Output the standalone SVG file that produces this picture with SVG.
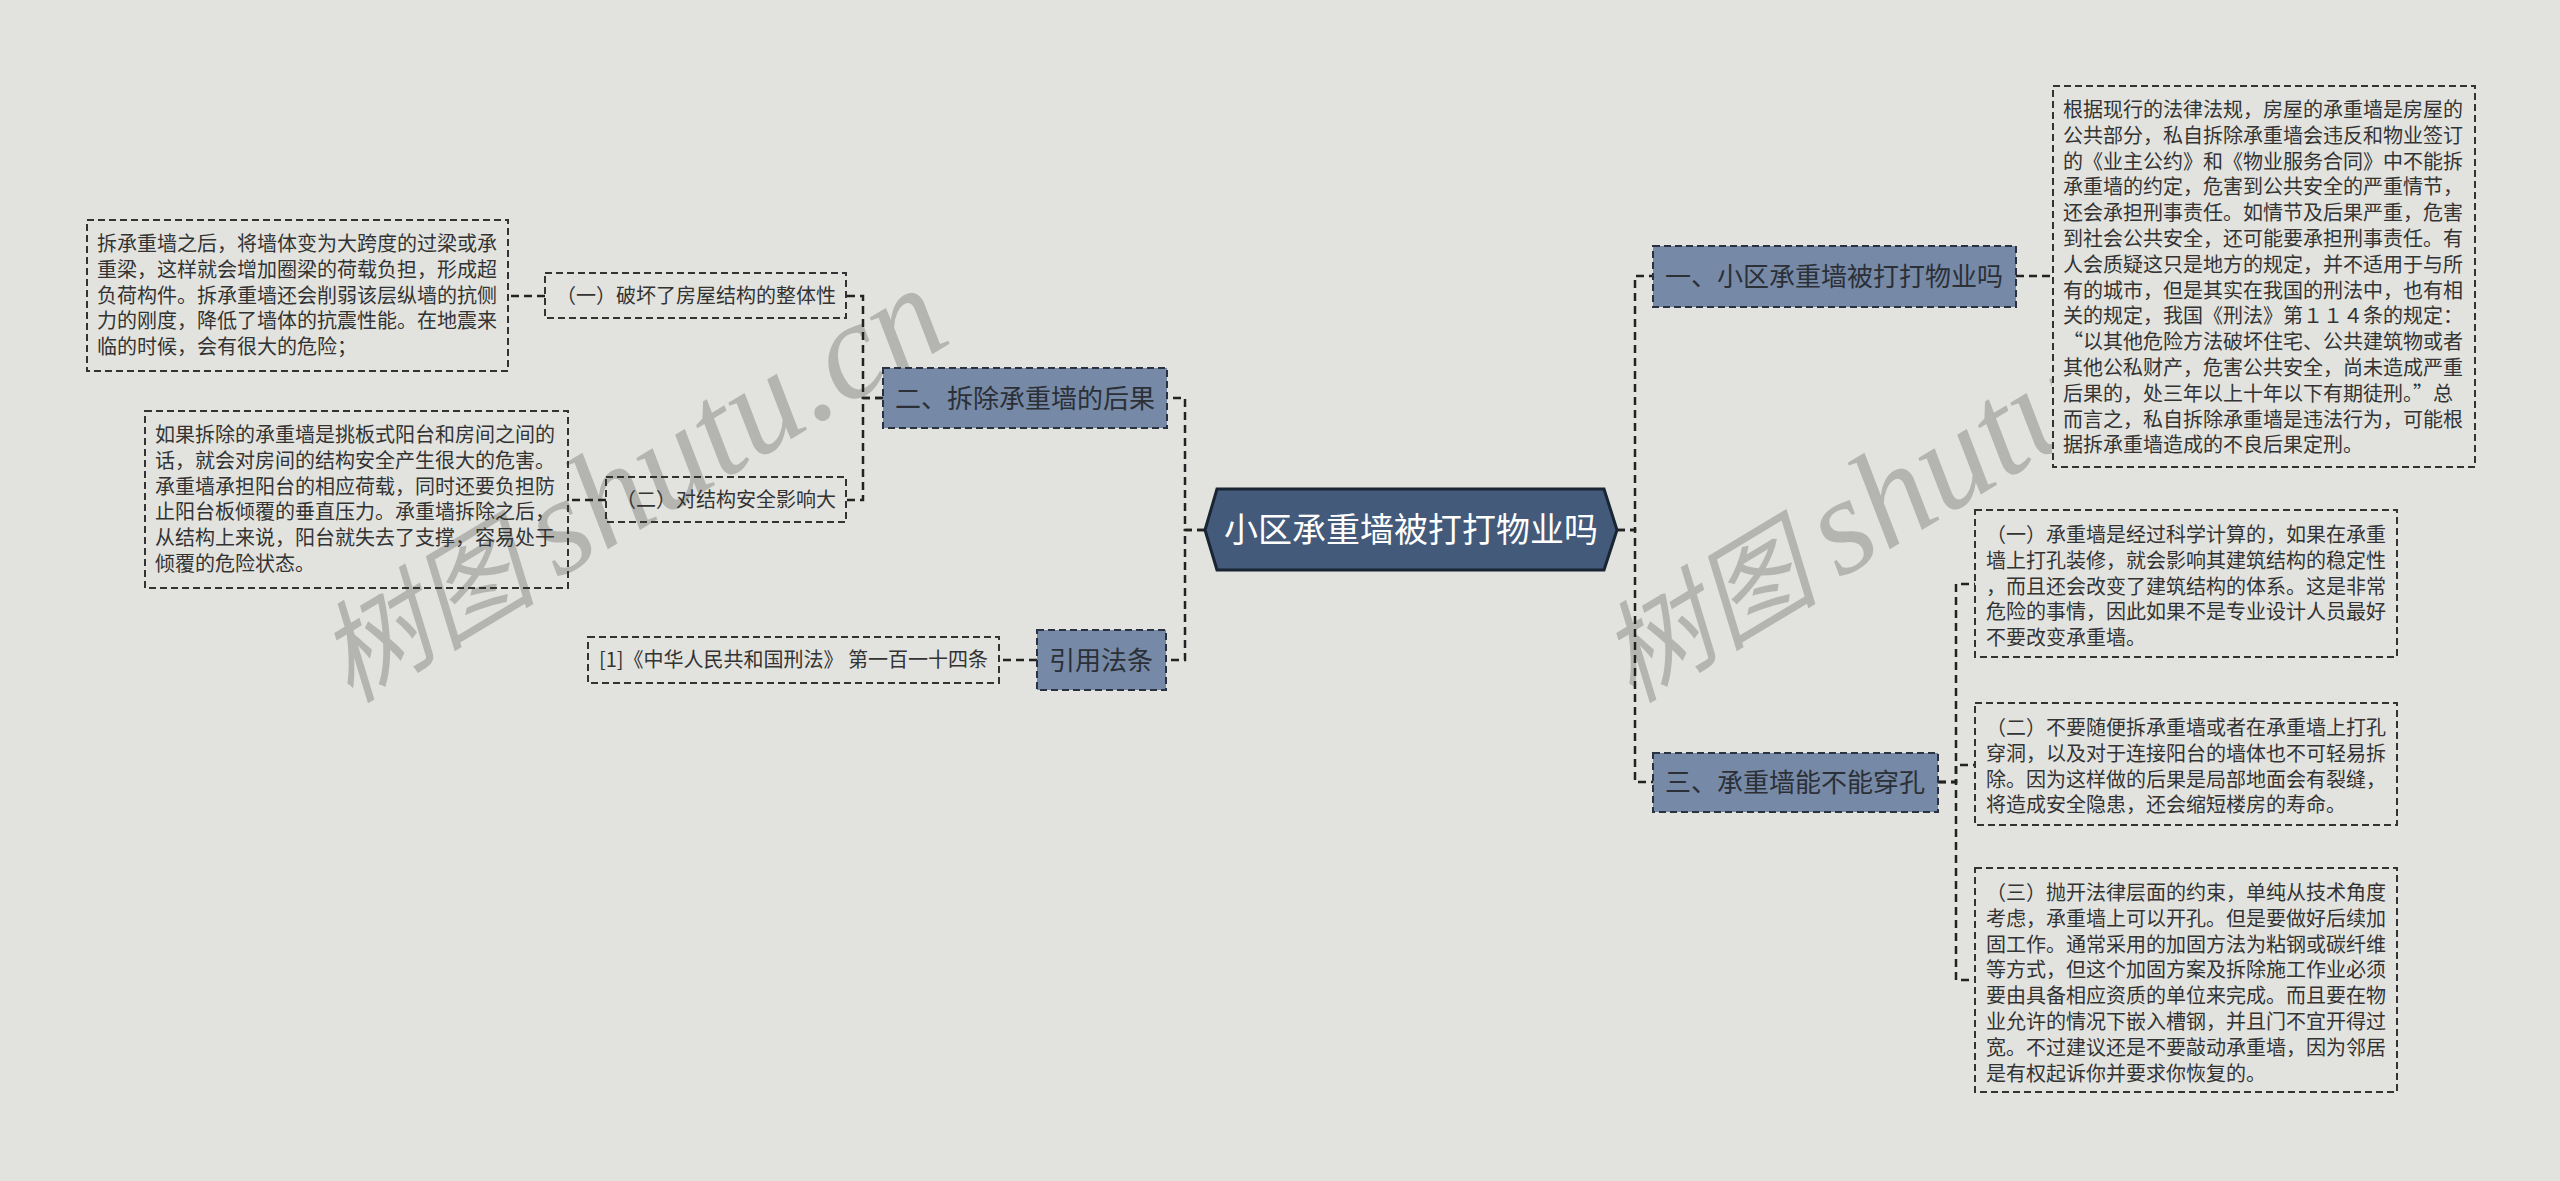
<svg xmlns="http://www.w3.org/2000/svg" width="2560" height="1181" viewBox="0 0 2560 1181">
<style>
.bg{fill:#e2e3df}
.wm{font-family:"Liberation Serif","Noto Sans CJK SC",serif;font-size:110px;fill:#b4b5b1;font-style:italic}
.wl{font-size:138px}
.leaf{fill:none;stroke:#333;stroke-width:2;stroke-dasharray:7 4}
.lt{font-family:"Noto Sans CJK SC","Noto Sans CJK JP",sans-serif;font-size:20px;fill:#333}
.br{fill:#7689a6;stroke:#2a3140;stroke-width:2;stroke-dasharray:7 4}
.bt{font-family:"Noto Sans CJK SC","Noto Sans CJK JP",sans-serif;font-size:26px;fill:#2b2f36}
.ct{font-family:"Noto Sans CJK SC","Noto Sans CJK JP",sans-serif;font-size:34px;fill:#ffffff}
.cn{fill:none;stroke:#222;stroke-width:2.5;stroke-dasharray:8 5}
</style>
<defs>
<clipPath id="clipR"><rect x="0" y="0" width="2052" height="1181"/></clipPath>
</defs>
<rect class="bg" x="0" y="0" width="2560" height="1181"/>
<g id="watermarks">
<text class="wm" transform="translate(350,704) rotate(-31)">树图<tspan class="wl" dx="22">shutu.cn</tspan></text>
<g clip-path="url(#clipR)">
<text class="wm" transform="translate(1632,704) rotate(-31)">树图<tspan class="wl" dx="22">shutu.cn</tspan></text>
</g>
</g>
<g id="connectors">
<path class="cn" d="M1617 530 H1635 V276 H1653"/>
<path class="cn" d="M1617 530 H1635 V782 H1653"/>
<path class="cn" d="M1205 530 H1185 V398 H1167"/>
<path class="cn" d="M1205 530 H1185 V660 H1166"/>
<path class="cn" d="M883 398 H863 V296 H846"/>
<path class="cn" d="M883 398 H863 V500 H846"/>
<path class="cn" d="M545 296 H508"/>
<path class="cn" d="M606 500 H568"/>
<path class="cn" d="M1037 660 H999"/>
<path class="cn" d="M2016 276 H2054"/>
<path class="cn" d="M1938 782 H1956 V584 H1975"/>
<path class="cn" d="M1938 782 H1956 V765 H1975"/>
<path class="cn" d="M1938 782 H1956 V980 H1975"/>
</g>
<g id="center">
<polygon points="1205,530 1217,489 1604,489 1617,530 1604,570 1217,570" fill="#435a7a" stroke="#1a2533" stroke-width="3"/>
<text class="ct" x="1411" y="542" text-anchor="middle">小区承重墙被打打物业吗</text>
</g>
<g id="branch1">
<rect class="br" x="1653" y="246" width="363" height="61"/>
<text class="bt" x="1834" y="286" text-anchor="middle">一、小区承重墙被打打物业吗</text>
</g>
<g id="branch3">
<rect class="br" x="1653" y="753" width="285" height="59"/>
<text class="bt" x="1795" y="792" text-anchor="middle">三、承重墙能不能穿孔</text>
</g>
<g id="branch2">
<rect class="br" x="883" y="368" width="284" height="60"/>
<text class="bt" x="1025" y="408" text-anchor="middle">二、拆除承重墙的后果</text>
</g>
<g id="branch4">
<rect class="br" x="1037" y="630" width="129" height="60"/>
<text class="bt" x="1101" y="670" text-anchor="middle">引用法条</text>
</g>
<g id="leaf-law">
<rect class="leaf" x="2053" y="86" width="422" height="381"/>
<text class="lt">
<tspan x="2063" y="117">根据现行的法律法规，房屋的承重墙是房屋的</tspan>
<tspan x="2063" y="142.8">公共部分，私自拆除承重墙会违反和物业签订</tspan>
<tspan x="2063" y="168.6">的《业主公约》和《物业服务合同》中不能拆</tspan>
<tspan x="2063" y="194.4">承重墙的约定，危害到公共安全的严重情节，</tspan>
<tspan x="2063" y="220.2">还会承担刑事责任。如情节及后果严重，危害</tspan>
<tspan x="2063" y="246">到社会公共安全，还可能要承担刑事责任。有</tspan>
<tspan x="2063" y="271.8">人会质疑这只是地方的规定，并不适用于与所</tspan>
<tspan x="2063" y="297.6">有的城市，但是其实在我国的刑法中，也有相</tspan>
<tspan x="2063" y="323.4">关的规定，我国《刑法》第１１４条的规定：</tspan>
<tspan x="2063" y="349.2">“以其他危险方法破坏住宅、公共建筑物或者</tspan>
<tspan x="2063" y="375">其他公私财产，危害公共安全，尚未造成严重</tspan>
<tspan x="2063" y="400.8">后果的，处三年以上十年以下有期徒刑。”总</tspan>
<tspan x="2063" y="426.6">而言之，私自拆除承重墙是违法行为，可能根</tspan>
<tspan x="2063" y="452.4">据拆承重墙造成的不良后果定刑。</tspan>
</text>
</g>
<g id="leaf-r1">
<rect class="leaf" x="1975" y="510" width="422" height="147"/>
<text class="lt">
<tspan x="1986" y="542">（一）承重墙是经过科学计算的，如果在承重</tspan>
<tspan x="1986" y="567.8">墙上打孔装修，就会影响其建筑结构的稳定性</tspan>
<tspan x="1986" y="593.6">，而且还会改变了建筑结构的体系。这是非常</tspan>
<tspan x="1986" y="619.4">危险的事情，因此如果不是专业设计人员最好</tspan>
<tspan x="1986" y="645.2">不要改变承重墙。</tspan>
</text>
</g>
<g id="leaf-r2">
<rect class="leaf" x="1975" y="703" width="422" height="122"/>
<text class="lt">
<tspan x="1986" y="735">（二）不要随便拆承重墙或者在承重墙上打孔</tspan>
<tspan x="1986" y="760.8">穿洞，以及对于连接阳台的墙体也不可轻易拆</tspan>
<tspan x="1986" y="786.6">除。因为这样做的后果是局部地面会有裂缝，</tspan>
<tspan x="1986" y="812.4">将造成安全隐患，还会缩短楼房的寿命。</tspan>
</text>
</g>
<g id="leaf-r3">
<rect class="leaf" x="1975" y="868" width="422" height="224"/>
<text class="lt">
<tspan x="1986" y="900">（三）抛开法律层面的约束，单纯从技术角度</tspan>
<tspan x="1986" y="925.8">考虑，承重墙上可以开孔。但是要做好后续加</tspan>
<tspan x="1986" y="951.6">固工作。通常采用的加固方法为粘钢或碳纤维</tspan>
<tspan x="1986" y="977.4">等方式，但这个加固方案及拆除施工作业必须</tspan>
<tspan x="1986" y="1003.2">要由具备相应资质的单位来完成。而且要在物</tspan>
<tspan x="1986" y="1029">业允许的情况下嵌入槽钢，并且门不宜开得过</tspan>
<tspan x="1986" y="1054.8">宽。不过建议还是不要敲动承重墙，因为邻居</tspan>
<tspan x="1986" y="1080.6">是有权起诉你并要求你恢复的。</tspan>
</text>
</g>
<g id="sub-l1">
<rect class="leaf" x="545" y="273" width="301" height="45"/>
<text class="lt" x="556" y="303">（一）破坏了房屋结构的整体性</text>
</g>
<g id="sub-l2">
<rect class="leaf" x="606" y="477" width="240" height="45"/>
<text class="lt" x="616" y="507">（二）对结构安全影响大</text>
</g>
<g id="leaf-l1">
<rect class="leaf" x="87" y="220" width="421" height="151"/>
<text class="lt">
<tspan x="97" y="251">拆承重墙之后，将墙体变为大跨度的过梁或承</tspan>
<tspan x="97" y="276.8">重梁，这样就会增加圈梁的荷载负担，形成超</tspan>
<tspan x="97" y="302.6">负荷构件。拆承重墙还会削弱该层纵墙的抗侧</tspan>
<tspan x="97" y="328.4">力的刚度，降低了墙体的抗震性能。在地震来</tspan>
<tspan x="97" y="354.2">临的时候，会有很大的危险；</tspan>
</text>
</g>
<g id="leaf-l2">
<rect class="leaf" x="145" y="411" width="423" height="177"/>
<text class="lt">
<tspan x="155" y="442">如果拆除的承重墙是挑板式阳台和房间之间的</tspan>
<tspan x="155" y="467.8">话，就会对房间的结构安全产生很大的危害。</tspan>
<tspan x="155" y="493.6">承重墙承担阳台的相应荷载，同时还要负担防</tspan>
<tspan x="155" y="519.4">止阳台板倾覆的垂直压力。承重墙拆除之后，</tspan>
<tspan x="155" y="545.2">从结构上来说，阳台就失去了支撑，容易处于</tspan>
<tspan x="155" y="571">倾覆的危险状态。</tspan>
</text>
</g>
<g id="leaf-cite">
<rect class="leaf" x="588" y="637" width="411" height="46"/>
<text class="lt" x="599" y="667">[1]《中华人民共和国刑法》 第一百一十四条</text>
</g>
</svg>
